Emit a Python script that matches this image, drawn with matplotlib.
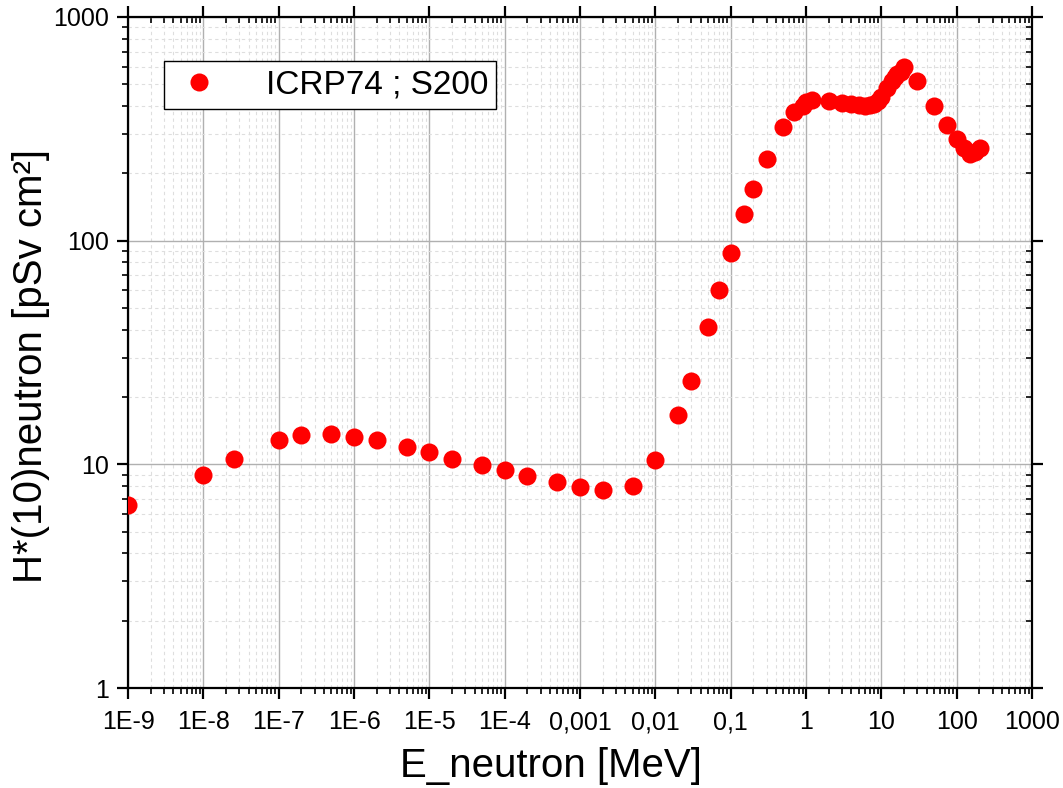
import matplotlib
matplotlib.use("Agg")
import matplotlib.pyplot as plt
from matplotlib.ticker import FixedLocator, FixedFormatter, LogLocator, NullFormatter

# ICRP74 H*(10) conversion coefficients
energy = [1e-9, 1e-8, 2.53e-8, 1e-7, 2e-7, 5e-7, 1e-6, 2e-6, 5e-6, 1e-5,
          2e-5, 5e-5, 1e-4, 2e-4, 5e-4, 1e-3, 2e-3, 5e-3, 0.01, 0.02,
          0.03, 0.05, 0.07, 0.1, 0.15, 0.2, 0.3, 0.5, 0.7, 0.9,
          1, 1.2, 2, 3, 4, 5, 6, 7, 8, 9,
          10, 12, 14, 15, 16, 18, 20, 30, 50, 75,
          100, 125, 150, 175, 201]
h10 = [6.6, 9.0, 10.6, 12.9, 13.5, 13.6, 13.3, 12.9, 12.0, 11.3,
       10.6, 9.9, 9.4, 8.9, 8.3, 7.9, 7.7, 8.0, 10.5, 16.6,
       23.7, 41.1, 60.0, 88.0, 132, 170, 233, 322, 375, 400,
       416, 425, 420, 412, 408, 405, 400, 405, 409, 420,
       440, 480, 520, 540, 555, 570, 600, 515, 400, 330,
       285, 260, 245, 250, 260]

x_ticks = [1e-9, 1e-8, 1e-7, 1e-6, 1e-5, 1e-4, 1e-3, 1e-2, 1e-1, 1, 10, 100, 1000]
x_labels = ["1E-9", "1E-8", "1E-7", "1E-6", "1E-5", "1E-4", "0,001", "0,01",
            "0,1", "1", "10", "100", "1000"]
y_ticks = [1, 10, 100, 1000]
y_labels = ["1", "10", "100", "1000"]

plt.rcParams['font.family'] = ['Liberation Sans', 'DejaVu Sans']

fig = plt.figure(figsize=(10.63, 7.88), dpi=100)
ax = fig.add_axes([128 / 1063, 1 - 688 / 788, (1032 - 128) / 1063, (688 - 17) / 788])

ax.plot(energy, h10, 'o', color='red', markersize=13, markeredgewidth=0,
        label="ICRP74 ; S200", zorder=3)

ax.set_xscale('log')
ax.set_yscale('log')
ax.set_xlim(1e-9, 1000)
ax.set_ylim(1, 1000)

ax.xaxis.set_major_locator(FixedLocator(x_ticks))
ax.xaxis.set_major_formatter(FixedFormatter(x_labels))
ax.xaxis.set_minor_locator(LogLocator(base=10, subs=range(2, 10), numticks=50))
ax.xaxis.set_minor_formatter(NullFormatter())
ax.yaxis.set_major_locator(FixedLocator(y_ticks))
ax.yaxis.set_major_formatter(FixedFormatter(y_labels))
ax.yaxis.set_minor_locator(LogLocator(base=10, subs=range(2, 10), numticks=50))
ax.yaxis.set_minor_formatter(NullFormatter())

ax.grid(True, which='major', color='#b0b0b0', linewidth=1.0, linestyle='-')
ax.grid(True, which='minor', color='#dedede', linewidth=0.8, linestyle=(0, (3, 3)))
ax.set_axisbelow(True)

for s in ax.spines.values():
    s.set_linewidth(1.6)

ax.tick_params(which='major', direction='out', length=8, width=1.6, labelsize=18)
ax.tick_params(which='minor', direction='out', length=4, width=1.2)
# Origin-style: top and right ticks point inward
ax.tick_params(which='both', top=True, right=True)
for t in ax.xaxis.get_major_ticks() + ax.xaxis.get_minor_ticks():
    t.tick2line.set_marker(3)
for t in ax.yaxis.get_major_ticks() + ax.yaxis.get_minor_ticks():
    t.tick2line.set_marker(0)
ax.tick_params(axis='x', pad=8)
ax.tick_params(axis='y', pad=6)

ax.set_xlabel("E_neutron [MeV]", fontsize=29)
ax.set_ylabel("H*(10)neutron [pSv cm²]", fontsize=29)
ax.xaxis.set_label_coords(0.468, -0.088)
ax.yaxis.set_label_coords(-0.086, 0.48)

leg = ax.legend(loc='upper left', bbox_to_anchor=(36 / 904, 1 - 44 / 671),
                fontsize=24, frameon=True, fancybox=False, framealpha=1,
                edgecolor='black', handletextpad=1.2, borderpad=0.25,
                handlelength=1.6, borderaxespad=0)
leg.get_frame().set_linewidth(1.0)

fig.savefig("out.png", dpi=100)
